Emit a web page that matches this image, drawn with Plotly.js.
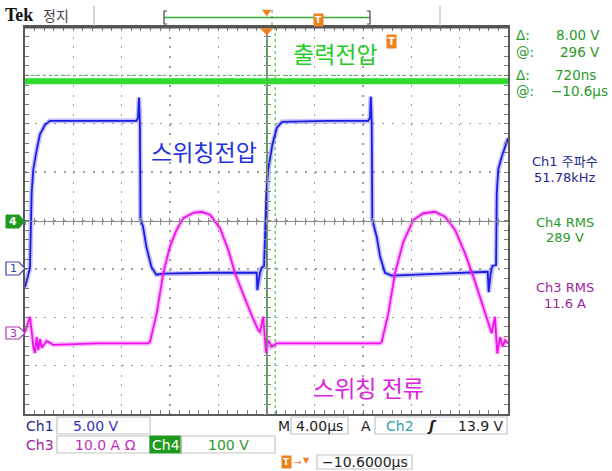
<!DOCTYPE html>
<html><head><meta charset="utf-8">
<script src="https://cdn.plot.ly/plotly-3.0.1.min.js"></script>
<style>body{margin:0;background:#fff}#chart{width:612px;height:471px}</style>
</head><body><div id="chart"></div><script>
// ---- data (time in µs relative to trigger) ----
const ch1Time = [-20.0,-19.72,-19.59,-19.45,-19.31,-19.03,-18.76,-18.34,-17.93,-14.0,-10.77,-10.64,-10.56,-10.48,-10.44,-10.23,-9.95,-9.53,-9.12,-8.55,-4.5,-0.81,-0.76,-0.54,-0.40,-0.20,-0.01,0.15,0.48,0.86,1.29,5.0,8.42,8.57,8.64,8.72,8.76,9.13,9.40,9.81,10.37,14.5,18.32,18.40,18.55,18.70,19.01,19.07,19.20,19.48,19.75,20.0];
const ch1Volts = [-1.9,-0.6,0.1,7.9,10.3,12.3,13.9,14.9,15.3,15.3,15.3,15.6,17.7,14.9,5.1,4.4,2.3,0.2,-0.6,-0.5,-0.4,-0.4,-2.2,-0.4,0.1,0.3,7.9,10.3,12.8,14.6,15.2,15.3,15.3,15.6,17.8,14.9,5.1,3.3,1.3,-0.4,-0.7,-0.5,-0.3,-2.4,-0.6,0.3,0.4,7.9,10.3,11.6,12.7,13.5];
const ch3Time = [-20.0,-19.59,-19.45,-19.31,-19.18,-19.03,-18.90,-18.76,-18.62,-18.20,-17.66,-14.0,-9.79,-9.65,-9.09,-8.55,-8.00,-7.44,-6.89,-6.06,-5.37,-4.68,-3.85,-3.16,-2.61,-1.92,-1.23,-0.68,-0.54,-0.27,-0.04,0.15,0.43,0.84,5.0,9.40,9.54,10.09,10.64,11.33,12.16,12.99,13.95,14.78,15.61,16.44,17.13,17.82,18.51,18.65,18.92,19.11,19.34,19.56,19.75,20.0];
const ch3Amps = [0.2,3.4,0.5,-2.8,-4.1,-0.8,-3.5,-1.2,-3.0,-1.6,-2.4,-2.1,-2.1,-1.8,4.1,12.4,17.9,21.4,23.8,24.9,25.1,24.5,21.7,17.2,12.4,7.9,3.7,0.6,0.3,3.4,-4.1,-1.5,-2.8,-2.1,-2.1,-2.1,-1.8,4.1,12.4,18.9,23.4,24.8,25.1,24.1,21.4,16.5,11.7,6.2,0.6,0.0,3.4,-4.2,-0.8,-2.8,-1.5,-2.1];
const ch4Time = [-20.0,-10.0,0.0,10.0,20.0];
const ch4Volts = [288,288,288,288,288];
const timeCursors = [0, 0.72];
const voltCursors = [292, 300];

const cursorLabels = ['Δ:','@:','Δ:','@:'];
const cursorValues = ['8.00 V','296 V','720ns','−10.6µs'];
const measureNames = ['Ch1 주파수','Ch4 RMS','Ch3 RMS'];
const measureValues = ['51.78kHz','289 V','11.6 A'];
const traceNames = ['출력전압','스위칭전압','스위칭 전류'];
const scaleTexts = ['5.00 V','10.0 A Ω','100 V','4.00µs','13.9 V','−10.6000µs'];

// ---- geometry helpers (pixels -> paper) ----
const L=25,R=508,T=27,B=414;
const fx=x=>(x-L)/(R-L), fy=y=>(B-y)/(B-T);
const path=pts=>'M'+pts.map(p=>fx(p[0]).toFixed(5)+','+fy(p[1]).toFixed(5)).join('L')+'Z';
const SANS='DejaVu Sans, Noto Sans CJK KR';
const KR='Noto Sans CJK KR';
function txt(x,y,text,size,color,extra){
  return Object.assign({xref:'paper',yref:'paper',x:fx(x),y:fy(y),text:text,showarrow:false,
    font:{family:SANS,size:size,color:color},xanchor:'center',yanchor:'middle',borderpad:0},extra||{});
}
function pline(x0,y0,x1,y1,color,width,dash){
  return {type:'line',xref:'paper',yref:'paper',x0:fx(x0),y0:fy(y0),x1:fx(x1),y1:fy(y1),line:{color:color,width:width,dash:dash||'solid'}};
}
function prect(x0,y0,x1,y1,lc,fill){
  return {type:'rect',xref:'paper',yref:'paper',x0:fx(x0),y0:fy(y0),x1:fx(x1),y1:fy(y1),line:{color:lc,width:1.2},fillcolor:fill||'rgba(0,0,0,0)',layer:'above'};
}
function ppath(pts,lc,fill,w){
  return {type:'path',xref:'paper',yref:'paper',path:path(pts),line:{color:lc,width:w===undefined?1:w},fillcolor:fill,layer:'above'};
}

const GREEN='#2a9a2a', NAVY='#27278f', PURPLE='#9c249c', ORANGE='#f0801e';

const traces = [
  {x:ch4Time,y:ch4Volts,yaxis:'y3',mode:'lines',line:{color:'#30dc30',width:6},hoverinfo:'skip'},
  {x:ch1Time,y:ch1Volts,yaxis:'y',mode:'lines',line:{color:'rgba(40,40,240,0.28)',width:5},hoverinfo:'skip'},
  {x:ch1Time,y:ch1Volts,yaxis:'y',mode:'lines',line:{color:'#1c1ce0',width:1.8},hoverinfo:'skip'},
  {x:ch3Time,y:ch3Amps,yaxis:'y2',mode:'lines',line:{color:'rgba(245,20,245,0.28)',width:5},hoverinfo:'skip'},
  {x:ch3Time,y:ch3Amps,yaxis:'y2',mode:'lines',line:{color:'#ee10ee',width:1.8},hoverinfo:'skip'},
  {x:[],y:[],xaxis:'x2',yaxis:'y',hoverinfo:'skip'},
  {x:[],y:[],xaxis:'x3',yaxis:'y',hoverinfo:'skip'},
  {x:[],y:[],xaxis:'x',yaxis:'y4',hoverinfo:'skip'},
  {x:[],y:[],xaxis:'x',yaxis:'y5',hoverinfo:'skip'}
];

const frameAxis = {showgrid:true,gridcolor:'#a0a0a0',griddash:'2px,7.66px',gridwidth:1.4,zeroline:false,
  showline:true,linecolor:'#5a5a5a',linewidth:2,mirror:'allticks',ticks:'inside',ticklen:4,tickcolor:'#777',tickwidth:1,
  showticklabels:false,fixedrange:true};
const centerAxis = (extra)=>Object.assign({anchor:'free',position:0.5,showline:true,linecolor:'#8a8a8a',linewidth:1,
  ticklen:3,tickcolor:'#8a8a8a',tickwidth:1,showgrid:false,zeroline:false,showticklabels:false,fixedrange:true},extra);

const shapes = [
  {type:'line',xref:'x',yref:'paper',x0:timeCursors[0],x1:timeCursors[0],y0:0,y1:1,line:{color:'#2cb82c',width:1},layer:'below'},
  {type:'line',xref:'x',yref:'paper',x0:timeCursors[1],x1:timeCursors[1],y0:0,y1:1,line:{color:'#2cb82c',width:1,dash:'dot'},layer:'below'},
  {type:'line',xref:'paper',yref:'y3',x0:0,x1:1,y0:voltCursors[0],y1:voltCursors[0],line:{color:'#2cb82c',width:1},layer:'below'},
  {type:'line',xref:'paper',yref:'y3',x0:0,x1:1,y0:voltCursors[1],y1:voltCursors[1],line:{color:'#2cb82c',width:1,dash:'dot'},layer:'below'},
  pline(24,27,509,27,'#555',3),
  pline(94,6,94,26,'#bbb',1.2),
  pline(440,6,440,26,'#bbb',1.2),
  pline(164,17.5,370,17.5,'#3aa83a',1.3),
  {type:'path',xref:'paper',yref:'paper',path:'M'+fx(167)+','+fy(11)+'L'+fx(164)+','+fy(11)+'L'+fx(164)+','+fy(24)+'L'+fx(167)+','+fy(24),line:{color:'#444',width:1.2}},
  {type:'path',xref:'paper',yref:'paper',path:'M'+fx(367)+','+fy(11)+'L'+fx(370)+','+fy(11)+'L'+fx(370)+','+fy(24)+'L'+fx(367)+','+fy(24),line:{color:'#444',width:1.2}},
  pline(272,10,272,25,'#3aa83a',1,'dot'),
  ppath([[262.5,10],[271,10],[266.7,16]],ORANGE,ORANGE,0.5),
  ppath([[260.5,28.5],[273,28.5],[266.7,35]],ORANGE,ORANGE,0.5),
  ppath([[6,215],[19,215],[24.5,221.5],[19,228],[6,228]],'#1f9a1f','#1f9a1f',1),
  ppath([[6,262],[19,262],[25,268.5],[19,275],[6,275]],'#4545a8','#ffffff',1.2),
  ppath([[6,327],[19,327],[25,333],[19,339],[6,339]],'#b535b5','#ffffff',1.2),
  prect(57,417,150,434,'#c4c4c4'),
  prect(57,436,150,453,'#c4c4c4'),
  prect(150,436,181,453,'#1e9a1e','#1e9a1e'),
  prect(181,436,275,453,'#c4c4c4'),
  prect(291,417,348,434,'#c4c4c4'),
  prect(375,417,507,434,'#c4c4c4'),
  prect(317,455,412,469,'#c4c4c4')
];

const ann = [
  txt(4,15,'<b>Tek</b>',18,'#111',{xanchor:'left',font:{family:'Liberation Serif',size:18,color:'#111'}}),
  txt(42,15,'정지',14,'#444',{xanchor:'left',font:{family:KR,size:14,color:'#444'}}),
  txt(335,53,traceNames[0],23,'#25cc25',{font:{family:KR,size:23,color:'#25cc25'}}),
  txt(204,151,traceNames[1],23,'#2233dd',{font:{family:KR,size:23,color:'#2233dd'}}),
  txt(368.5,387,traceNames[2],23,'#dd22dd',{font:{family:KR,size:23,color:'#dd22dd'}}),
  txt(318,20,'<b>T</b>',9,'#fff',{bgcolor:ORANGE,borderpad:1}),
  txt(391,42,'<b>T</b>',10,'#fff',{bgcolor:ORANGE,borderpad:1}),
  txt(286,462,'<b>T</b>',9,'#fff',{bgcolor:ORANGE,borderpad:1}),
  txt(298,462,'→',9,ORANGE),
  txt(306,461,'▼',8,ORANGE),
  txt(515,35,cursorLabels[0],13.5,GREEN,{xanchor:'left'}),
  txt(515,52,cursorLabels[1],13.5,GREEN,{xanchor:'left'}),
  txt(515,75,cursorLabels[2],13.5,GREEN,{xanchor:'left'}),
  txt(515,91,cursorLabels[3],13.5,GREEN,{xanchor:'left'}),
  txt(578,35,cursorValues[0],13.5,GREEN),
  txt(580,52,cursorValues[1],13.5,GREEN),
  txt(575,75,cursorValues[2],13.5,GREEN),
  txt(579,91,cursorValues[3],13.5,GREEN),
  txt(565,161,measureNames[0],13,NAVY),
  txt(565,177,measureValues[0],13,NAVY),
  txt(565,222,measureNames[1],13,GREEN),
  txt(565,238,measureValues[1],13,GREEN),
  txt(565,287,measureNames[2],13,PURPLE),
  txt(565,303,measureValues[2],13,PURPLE),
  txt(13,221.5,'<b>4</b>',11,'#fff'),
  txt(13,268.5,'1',11,'#3a3ab0'),
  txt(13,333,'3',11,'#b030b0'),
  txt(25,426,'Ch1',14,NAVY,{xanchor:'left'}),
  txt(96,426,scaleTexts[0],14,'#3232b4'),
  txt(25,445,'Ch3',14,PURPLE,{xanchor:'left'}),
  txt(105,445,scaleTexts[1],14,'#c02ec0'),
  txt(165.5,445,'Ch4',14,'#fff'),
  txt(228,445,scaleTexts[2],14,GREEN),
  txt(284,426,'M',14,'#222'),
  txt(319.5,426,scaleTexts[3],14,'#222'),
  txt(366,426,'A',14,'#222'),
  txt(400,426,'Ch2',14,'#2ea2a8'),
  txt(432,426,'<b><i>ʃ</i></b>',14,'#222'),
  txt(505,426,scaleTexts[4],14,'#222',{xanchor:'right'}),
  txt(364.5,462,scaleTexts[5],14,'#222')
];

const layout = {
  width:612,height:471,margin:{l:L,r:612-R,t:T,b:471-B,pad:0},
  paper_bgcolor:'#fff',plot_bgcolor:'#fff',showlegend:false,
  xaxis:Object.assign({},frameAxis,{range:[-20,20],tick0:-20,dtick:4,
    minor:{ticks:'inside',ticklen:4,tickcolor:'#777',tickwidth:1,tick0:-20,dtick:0.8,showgrid:false}}),
  yaxis:Object.assign({},frameAxis,{range:[-15,25],tick0:-15,dtick:5,
    minor:{ticks:'inside',ticklen:4,tickcolor:'#777',tickwidth:1,tick0:-15,dtick:1,showgrid:false}}),
  yaxis2:{overlaying:'y',range:[-16.7,63.3],visible:false,fixedrange:true},
  yaxis3:{overlaying:'y',range:[-400,400],visible:false,fixedrange:true},
  xaxis2:centerAxis({overlaying:'x',range:[-20,20],tick0:0,dtick:0.8,ticks:'outside'}),
  xaxis3:centerAxis({overlaying:'x',range:[-20,20],tick0:0,dtick:0.8,ticks:'inside'}),
  yaxis4:centerAxis({overlaying:'y',range:[-4,4],tick0:0,dtick:0.2,ticks:'outside'}),
  yaxis5:centerAxis({overlaying:'y',range:[-4,4],tick0:0,dtick:0.2,ticks:'inside'}),
  shapes:shapes,annotations:ann
};
Plotly.newPlot('chart',traces,layout,{staticPlot:true,displayModeBar:false});
</script></body></html>
